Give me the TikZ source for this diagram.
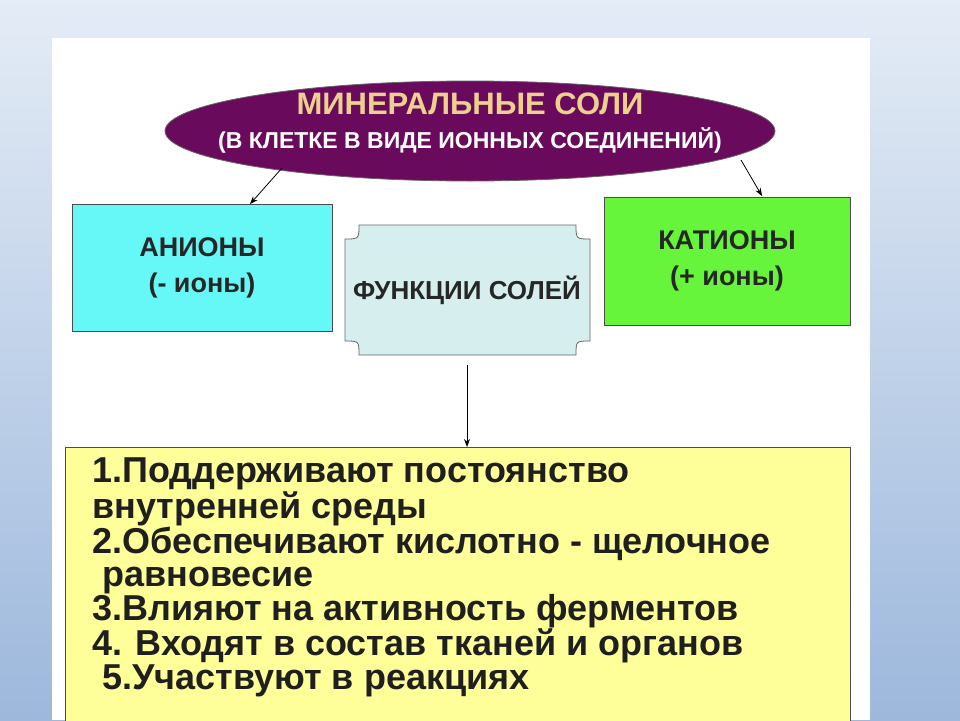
\documentclass[tikz,border=0pt]{standalone}
\usepackage{fontspec}
\setmainfont{Liberation Sans}
\usetikzlibrary{shapes.geometric,arrows.meta}
\definecolor{bgtop}{HTML}{E4ECF6}
\definecolor{bgbot}{HTML}{9DB8DC}
\definecolor{purp}{HTML}{6A0A5C}
\definecolor{ttl}{HTML}{EBD08E}
\definecolor{cyanb}{HTML}{66F7F7}
\definecolor{greenb}{HTML}{66F53A}
\definecolor{funcb}{HTML}{D6EEEE}
\definecolor{yelb}{HTML}{FFFF99}
\tikzset{
  box/.style={draw=black!70, line width=0.8pt, inner sep=0pt, font=\fontsize{27}{32}\selectfont\bfseries, text=black!85, align=center},
  arr/.style={-{Stealth[length=8pt,width=6pt]}, line width=0.8pt}
}
\begin{document}
\begin{tikzpicture}[x=1pt,y=-1pt]
\useasboundingbox (0,0) rectangle (960,720);
\shade[top color=bgtop, bottom color=bgbot] (0,0) rectangle (960,720);
\fill[white] (52,38) rectangle (870,720);
\node[ellipse, draw=black!60, line width=0.8pt, fill=purp, minimum width=610, minimum height=100, inner sep=0pt] (e) at (470,131) {};
\node[font=\fontsize{31}{34}\selectfont\bfseries, text=ttl] (t1) at (470,104) {МИНЕРАЛЬНЫЕ СОЛИ};
\node[font=\fontsize{23}{26}\selectfont\bfseries, text=white] (t2) at (470,140) {(В КЛЕТКЕ В ВИДЕ ИОННЫХ СОЕДИНЕНИЙ)};
\node[box, fill=cyanb, minimum width=260, minimum height=127] (an) at (202,268) {АНИОНЫ\\[4pt](-  ионы)};
\node[box, fill=greenb, minimum width=246, minimum height=128] (cat) at (727,261) {КАТИОНЫ\\[4pt](+ ионы)};
\node[inner sep=0pt, minimum width=245, minimum height=130] (fn) at (467,290) {};
\fill[funcb, draw=black!60, line width=0.8pt]
  (359,225) -- (576,225) .. controls (576,239) .. (590,239)
  -- (590,341) .. controls (576,341) .. (576,355)
  -- (359,355) .. controls (359,341) .. (345,341)
  -- (345,239) .. controls (359,239) .. cycle;
\node[font=\fontsize{26}{30}\selectfont\bfseries, text=black!85] (fnt) at (fn) {ФУНКЦИИ СОЛЕЙ};
\node[draw=black!70, line width=0.8pt, fill=yelb, minimum width=785, minimum height=290, inner sep=0pt, anchor=north west] (list) at (65,447) {};
\node[anchor=north west, align=left, font=\fontsize{36}{33.6}\selectfont\bfseries, text=black!88, inner sep=0pt] (lt) at (92,458)
{1.Поддерживают  постоянство\\внутренней среды\\2.Обеспечивают кислотно - щелочное\\\ равновесие\\3.Влияют на  активность ферментов\\4. Входят в состав тканей и органов\\\ 5.Участвуют в реакциях};
\coordinate (a1) at (282,168);
\coordinate (a2) at (741,160);
\draw[arr] (a1) -- (an.north -| 250,0);
\draw[arr] (a2) -- (762,196);
\draw[arr] (fn.south |- 0,365) -- (list.north -| fn.south);
\end{tikzpicture}
\end{document}
